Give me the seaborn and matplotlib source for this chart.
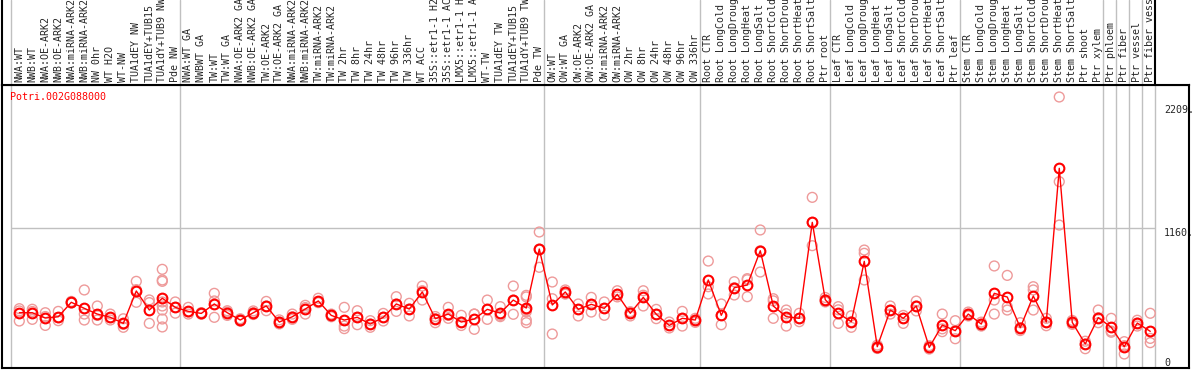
"""
Expression profile of Potri.002G088000 across sample groups.
"""

import numpy as np
import pandas as pd
import matplotlib
matplotlib.use('Agg')
import matplotlib.pyplot as plt
import seaborn as sns

gene = "Potri.002G088000"

samples = [
    "NWA:WT", "NWB:WT", "NWA:OE-ARK2", "NWB:OE-ARK2", "NWA:miRNA-ARK2", "NWB:miRNA-ARK2",
    "NW 0hr", "WT H2O", "WT-NW", "TUA1dEY NW", "TUA1dEY+TUB15", "TUA1dY+TUB9 NW", "Pde NW",
    "NWA:WT GA", "NWBWT GA", "TW:WT", "TW:WT GA", "NWA:OE-ARK2 GA", "NWB:OE-ARK2 GA",
    "TW:OE-ARK2", "TW:OE-ARK2 GA", "NWA:miRNA-ARK2", "NWB:miRNA-ARK2", "TW:miRNA-ARK2",
    "TW:miRNA-ARK2", "TW 2hr", "TW 8hr", "TW 24hr", "TW 48hr", "TW 96hr", "TW 336hr", "WT ACC",
    "35S::etr1-1 H2O", "35S::etr1-1 ACC", "LMX5::etr1-1 H2O", "LMX5::etr1-1 ACC", "WT-TW",
    "TUA1dEY TW", "TUA1dEY+TUB15", "TUA1dY+TUB9 TW", "Pde TW",
    "OW:WT", "OW:WT GA", "OW:OE-ARK2", "OW:OE-ARK2 GA", "OW:miRNA-ARK2", "OW:miRNA-ARK2",
    "OW 2hr", "OW 8hr", "OW 24hr", "OW 48hr", "OW 96hr", "OW 336hr",
    "Root CTR", "Root LongCold", "Root LongDrought", "Root LongHeat", "Root LongSalt",
    "Root ShortCold", "Root ShortDrought", "Root ShortHeat", "Root ShortSalt", "Ptr root",
    "Leaf CTR", "Leaf LongCold", "Leaf LongDrought", "Leaf LongHeat", "Leaf LongSalt",
    "Leaf ShortCold", "Leaf ShortDrought", "Leaf ShortHeat", "Leaf ShortSalt", "Ptr leaf",
    "Stem CTR", "Stem LongCold", "Stem LongDrought", "Stem LongHeat", "Stem LongSalt",
    "Stem ShortCold", "Stem ShortDrought", "Stem ShortHeat", "Stem ShortSalt", "Ptr shoot",
    "Ptr xylem", "Ptr phloem", "Ptr fiber", "Ptr vessel", "Ptr fiber vessel",
]

# first sample index of each group (last entry closes the table)
group_starts = [0, 13, 41, 53, 63, 73, 84, 85, 86, 87, 88]

means = [
    404, 404, 357, 368, 497, 443, 392, 363, 309, 598, 428, 533, 452,
    416, 398, 482, 404, 339, 404, 464, 321, 368, 437, 509, 380, 339, 363, 303,
    363, 482, 437, 589, 351, 392, 321, 348, 434, 401, 517, 446, 972,
    473, 589, 434, 479, 443, 568, 399, 541, 390, 291, 354, 339,
    696, 381, 627, 651, 957, 464, 369, 354, 1210, 520,
    399, 324, 862, 101, 428, 354, 464, 95, 294, 244,
    392, 303, 577, 544, 271, 553, 321, 1692, 318, 125, 360,
    274, 101, 312, 238,
]

replicates = [
    [440, 420, 330], [435, 415, 345], [404, 370, 291], [416, 360, 333], [505, 490, 495],
    [607, 392, 339], [464, 380, 339], [392, 360, 339], [350, 300, 274], [684, 610, 497],
    [518, 494, 309], [791, 696, 684, 500, 464, 428, 348, 277], [500, 452, 400],
    [452, 410, 392], [405, 398, 390], [577, 509, 363], [422, 410, 380], [350, 339, 328],
    [420, 404, 388], [505, 464, 422], [340, 321, 304], [392, 368, 345], [470, 450, 392],
    [533, 500, 494], [392, 380, 368], [452, 285, 262], [422, 363, 297], [333, 303, 274],
    [398, 363, 330], [547, 482, 416], [488, 437, 375], [642, 600, 517], [370, 351, 315],
    [452, 380, 354], [381, 321, 290], [392, 392, 256], [517, 434, 345], [458, 380, 369],
    [642, 517, 390], [559, 545, 430, 413, 339, 315], [1124, 972, 809],
    [678, 529, 214], [607, 589, 570], [482, 434, 375], [541, 479, 410], [500, 443, 381],
    [600, 568, 545], [413, 399, 375], [600, 560, 464], [434, 390, 351], [321, 291, 268],
    [416, 354, 285], [354, 339, 318],
    [865, 636, 571], [482, 381, 297], [681, 627, 562], [708, 698, 547], [1142, 957, 767],
    [529, 510, 354], [428, 395, 285], [399, 354, 324], [1433, 1210, 1002], [540, 520, 500],
    [458, 430, 309], [377, 324, 274], [963, 934, 696], [115, 101, 85], [464, 428, 392],
    [380, 354, 309], [508, 464, 420], [110, 95, 80], [392, 260, 235], [333, 244, 172],
    [410, 392, 375], [320, 303, 285], [821, 517, 392], [737, 458, 428], [315, 271, 245],
    [636, 607, 428], [354, 321, 288], [2328, 1573, 1186], [335, 318, 300], [150, 125, 83],
    [428, 360, 315],
    [354, 240, 230], [146, 110, 36], [337, 312, 285], [399, 175, 137],
]

y_ticks = [0, 1160, 2209]
y_tick_labels = ["0", "1160.", "2209."]

sns.set_style("white")
plt.rcParams['font.family'] = ['DejaVu Sans Mono', 'DejaVu Sans']

W, H = 1194, 370
fig = plt.figure(figsize=(W / 100, H / 100), dpi=100)
ax = fig.add_axes([2 / W, 2 / H, 1187 / W, 283 / H])
hx = fig.add_axes([2 / W, 285 / H, 1187 / W, 85 / H])

xlim = (-1.331, 89.98)
grid_col = "#c0c0c0"
seps = [s - 0.62 for s in group_starts]

pos = np.arange(len(samples))
rep_df = pd.DataFrame({
    "pos": np.repeat(pos, [len(r) for r in replicates]),
    "value": np.concatenate(replicates),
})

# main panel
for s in seps:
    ax.axvline(s, color=grid_col, lw=1, zorder=0)
ax.hlines(1160, seps[0], seps[-1], color=grid_col, lw=1, zorder=0)

sns.scatterplot(data=rep_df, x="pos", y="value", ax=ax, marker="o", s=50,
                facecolor="none", edgecolor="#ee9a9a", linewidth=1.0,
                legend=False, zorder=2)
sns.lineplot(x=pos, y=means, ax=ax, color="red", lw=1, marker="o", markersize=7,
             markerfacecolor="none", markeredgecolor="red", markeredgewidth=1.5,
             zorder=3)

ax.set_xlim(xlim)
ax.set_ylim(-89, 2435)
ax.set_xticks([])
ax.set_xlabel("")
ax.set_ylabel("")
ax.yaxis.tick_right()
ax.set_yticks(y_ticks)
ax.set_yticklabels(y_tick_labels, fontsize=7.2)
ax.tick_params(axis="y", length=0, pad=-18)
ylabs = ax.get_yticklabels()
ylabs[0].set_va("top")
ylabs[1].set_va("top")
ylabs[2].set_va("center")
for sp in ax.spines.values():
    sp.set_visible(True)
    sp.set_color("black")
    sp.set_linewidth(1.5)

ax.text(0.0067, 0.957, gene, color="red", fontsize=7.2, va="center", ha="left",
        transform=ax.transAxes)

# header with rotated sample names (long names are cut at the top edge)
hx.set_xlim(xlim)
hx.set_ylim(0, 1)
hx.set_xticks([])
hx.set_yticks([])
for s in seps[:-1]:
    hx.axvline(s, color=grid_col, lw=1, zorder=0)
hx.axvline(seps[-1], color="black", lw=1.5, zorder=1)
for name, sp in hx.spines.items():
    sp.set_visible(name in ("left", "bottom"))
    sp.set_color("black")
    sp.set_linewidth(1.5)
for i, lab in enumerate(samples):
    hx.text(i, 0.03, lab, rotation=90, ha="center", va="bottom", fontsize=7.2,
            clip_on=True)

fig.savefig("out.png", dpi=100)
